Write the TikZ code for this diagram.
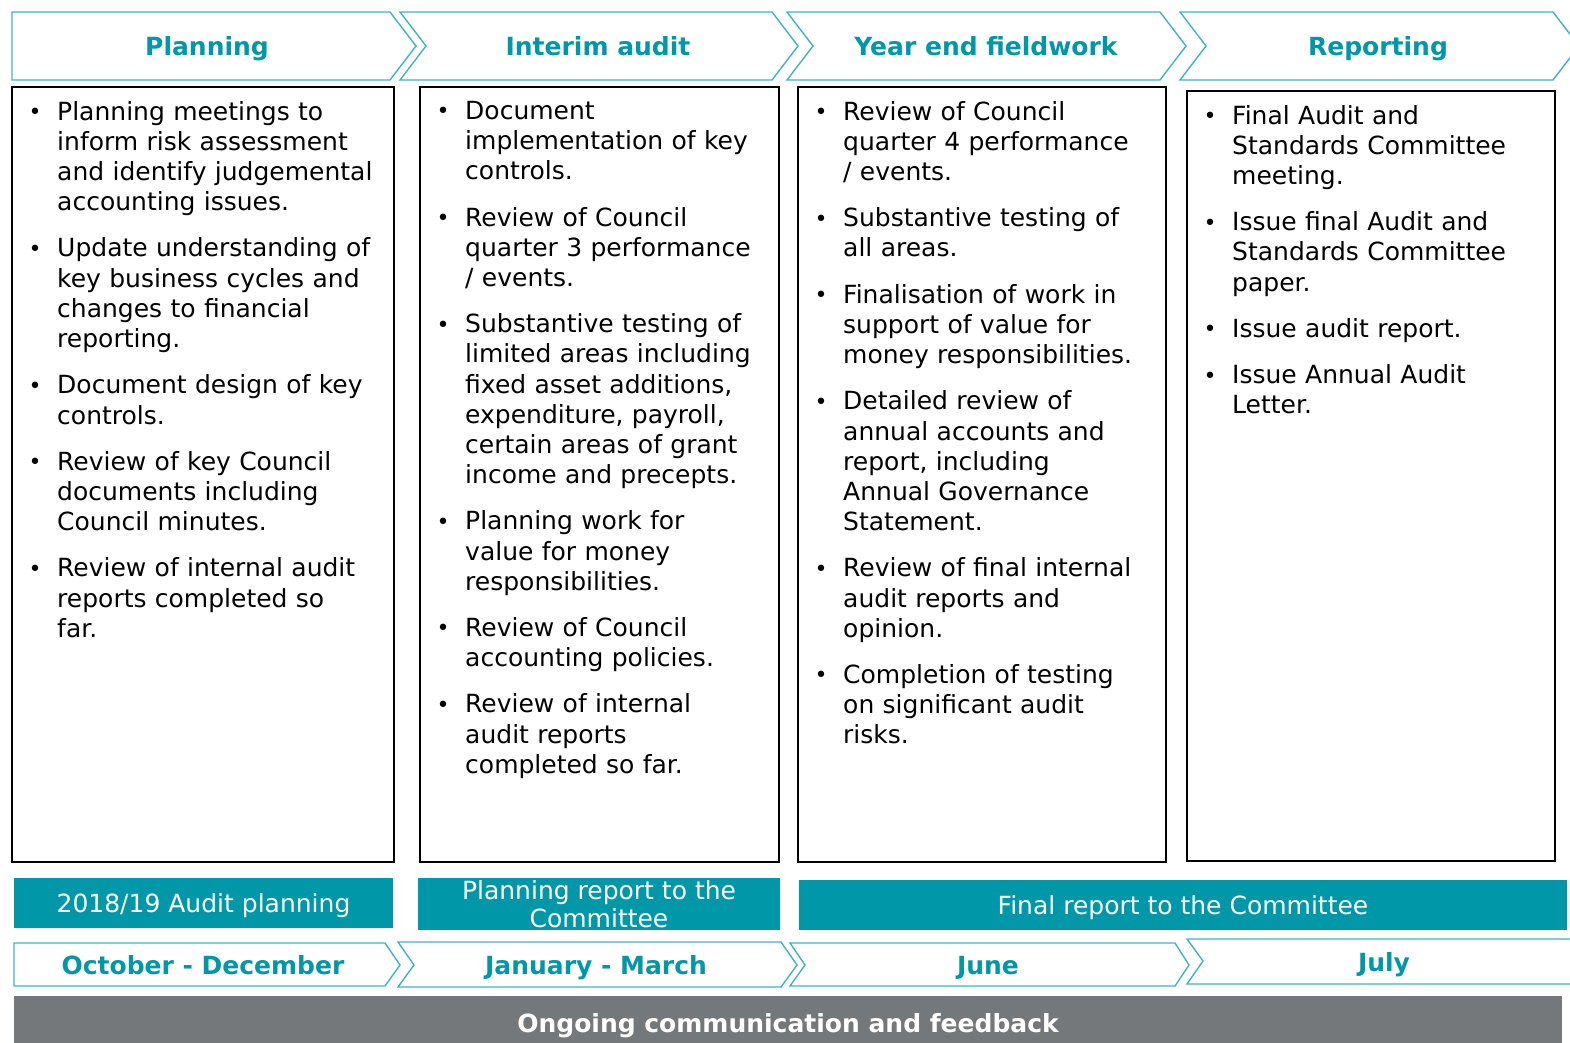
\documentclass[tikz,border=0pt]{standalone}
\usepackage{fontspec}
\setmainfont{DejaVu Sans}
\definecolor{kteal}{HTML}{0097A9}
\definecolor{kline}{HTML}{3FB3C4}
\definecolor{kgrey}{HTML}{75787B}
\newcommand{\itm}{\leavevmode\llap{\raisebox{0.5pt}{\fontsize{22}{22}\selectfont\textbullet}\hspace{15.5pt}}}

\tikzset{
  phase/.style={draw=kline, line width=1.4pt, fill=white, line join=miter},
  phasetext/.style={anchor=base, text=kteal, inner sep=0pt, font=\fontsize{25}{29}\selectfont\bfseries},
  panel/.style={draw=black, line width=1.8pt, anchor=north west, inner sep=0pt},
  items/.style={anchor=north west, align=left, text width=420pt, inner sep=0pt, font=\fontsize{25}{30.2}\selectfont},
  bar/.style={fill=kteal, text=white, inner sep=0pt, align=center, font=\fontsize{25}{28}\selectfont},
  commbar/.style={fill=kgrey, text=white, inner sep=0pt, text height=18pt, text depth=0pt, font=\fontsize{25}{29}\selectfont\bfseries}
}

\begin{document}
\begin{tikzpicture}[x=1pt,y=-1pt]
  \useasboundingbox (0,0) rectangle (1570,1042);

  % phases along the top
  \draw[phase] (12,12) -- (390,12) -- (416,46) -- (390,80) -- (12,80) -- cycle;
  \draw[phase] (400,12) -- (772,12) -- (798,46) -- (772,80) -- (400,80) -- (426,46) -- cycle;
  \draw[phase] (787,12) -- (1160,12) -- (1186,46) -- (1160,80) -- (787,80) -- (813,46) -- cycle;
  \draw[phase] (1180,12) -- (1553,12) -- (1579,46) -- (1553,80) -- (1180,80) -- (1206,46) -- cycle;
  \node[phasetext] (planning) at (207,55) {Planning};
  \node[phasetext] (interim) at (598,55) {Interim audit};
  \node[phasetext] (yearend) at (986,55) {Year end fieldwork};
  \node[phasetext] (reporting) at (1378,55) {Reporting};

  % work done in each phase
  \node[panel, minimum width=382pt, minimum height=775pt] (planbox) at (11,86) {};
  \node[panel, minimum width=359pt, minimum height=775pt] (interimbox) at (419,86) {};
  \node[panel, minimum width=368pt, minimum height=775pt] (yearendbox) at (797,86) {};
  \node[panel, minimum width=368pt, minimum height=770pt] (reportbox) at (1186,90) {};

  \node[items] (planitems) at (57,101) {%
    \itm Planning meetings to\\ inform risk assessment\\ and identify judgemental\\ accounting issues.\\[16pt]
    \itm Update understanding of\\ key business cycles and\\ changes to financial\\ reporting.\\[16pt]
    \itm Document design of key\\ controls.\\[16pt]
    \itm Review of key Council\\ documents including\\ Council minutes.\\[16pt]
    \itm Review of internal audit\\ reports completed so\\ far.};

  \node[items] (interimitems) at (465,101) {%
    \itm Document\\ implementation of key\\ controls.\\[16pt]
    \itm Review of Council\\ quarter 3 performance\\ / events.\\[16pt]
    \itm Substantive testing of\\ limited areas including\\ fixed asset additions,\\ expenditure, payroll,\\ certain areas of grant\\ income and precepts.\\[16pt]
    \itm Planning work for\\ value for money\\ responsibilities.\\[16pt]
    \itm Review of Council\\ accounting policies.\\[16pt]
    \itm Review of internal\\ audit reports\\ completed so far.};

  \node[items] (yearenditems) at (843,101) {%
    \itm Review of Council\\ quarter 4 performance\\ / events.\\[16pt]
    \itm Substantive testing of\\ all areas.\\[16pt]
    \itm Finalisation of work in\\ support of value for\\ money responsibilities.\\[16pt]
    \itm Detailed review of\\ annual accounts and\\ report, including\\ Annual Governance\\ Statement.\\[16pt]
    \itm Review of final internal\\ audit reports and\\ opinion.\\[16pt]
    \itm Completion of testing\\ on significant audit\\ risks.};

  \node[items] (reportitems) at (1232,105) {%
    \itm Final Audit and\\ Standards Committee\\ meeting.\\[16pt]
    \itm Issue final Audit and\\ Standards Committee\\ paper.\\[16pt]
    \itm Issue audit report.\\[16pt]
    \itm Issue Annual Audit\\ Letter.};

  % reports to the committee
  \node[bar, minimum width=379pt, minimum height=50pt, text height=19pt, text depth=0pt] (planbar) at (203.5,903) {2018/19 Audit planning};
  \node[bar, minimum width=362pt, minimum height=52pt] (interimbar) at (599,904) {Planning report to the\\ Committee};
  \node[bar, minimum width=768pt, minimum height=50pt, text height=19pt, text depth=0pt] (finalbar) at (1183,905) {Final report to the Committee};

  % months
  \draw[phase] (14,943) -- (385,943) -- (400,965) -- (385,986) -- (14,986) -- cycle;
  \draw[phase] (398,942) -- (781,942) -- (797,965) -- (781,987) -- (398,987) -- (414,965) -- cycle;
  \draw[phase] (790,943) -- (1175,943) -- (1189,965) -- (1175,986) -- (790,986) -- (805,965) -- cycle;
  \draw[phase] (1187,939) -- (1590,939) -- (1590,984) -- (1187,984) -- (1203,961) -- cycle;
  \node[phasetext] (octdec) at (203,974) {October - December};
  \node[phasetext] (janmar) at (596,974) {January - March};
  \node[phasetext] (june) at (988,974) {June};
  \node[phasetext] (july) at (1384,971) {July};

  \node[commbar, minimum width=1548pt, minimum height=54pt] (comms) at (788,1023) {Ongoing communication and feedback};
\end{tikzpicture}
\end{document}
